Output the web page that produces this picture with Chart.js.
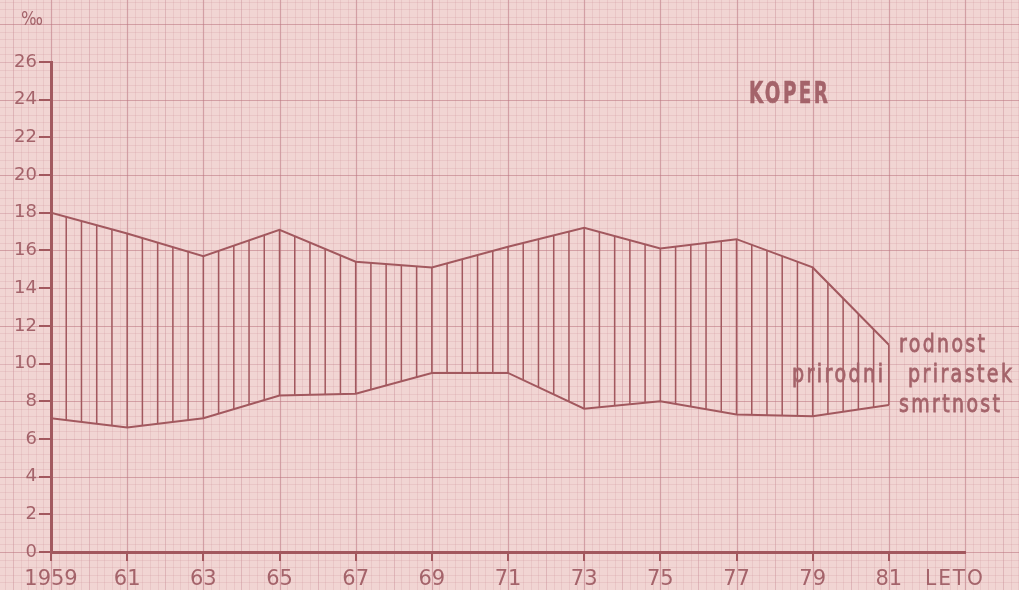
<!DOCTYPE html>
<html>
<head>
<meta charset="utf-8">
<script src="https://cdn.jsdelivr.net/npm/chart.js@4.4.1/dist/chart.umd.min.js"></script>
<style>
html,body{margin:0;padding:0;background:#f1d5d3;}
canvas{display:block;}
</style>
</head>
<body>
<canvas id="c" width="1019" height="590"></canvas>
<script>
// ---- data ----
const years = [1959, 1961, 1963, 1965, 1967, 1969, 1971, 1973, 1975, 1977, 1979, 1981];
const rodnost = [18.0, 16.9, 15.7, 17.1, 15.4, 15.1, 16.2, 17.2, 16.1, 16.6, 15.1, 11.0];
const smrtnost = [7.1, 6.6, 7.1, 8.3, 8.4, 9.5, 9.5, 7.6, 8.0, 7.3, 7.2, 7.8];
const xTickLabels = ['1959', '61', '63', '65', '67', '69', '71', '73', '75', '77', '79', '81'];
const yTicks = [0, 2, 4, 6, 8, 10, 12, 14, 16, 18, 20, 22, 24, 26];
const seriesNames = ['rodnost', 'prirodni', 'prirastek', 'smrtnost'];
const title = 'KOPER';
const unitLabel = '‰';
const xAxisName = 'LETO';

const INK = '#a2585e';
const TEXT = '#a4636a';
const PAPER = '#f1d5d3';

const paperPlugin = {
  id: 'paper',
  beforeDraw(chart) {
    const ctx = chart.ctx, xs = chart.scales.x, ys = chart.scales.y;
    const W = chart.width, H = chart.height;
    ctx.save();
    ctx.fillStyle = PAPER;
    ctx.fillRect(0, 0, W, H);
    const x0 = xs.getPixelForValue(1959), dx = xs.getPixelForValue(1959.2) - x0;
    const kMinX = Math.floor(-x0 / dx) - 1, kMaxX = Math.ceil((W - x0) / dx) + 1;
    const y0 = ys.getPixelForValue(0), dy = ys.getPixelForValue(0.4) - y0;
    const kMinY = Math.floor((H - y0) / dy) - 1, kMaxY = Math.ceil((0 - y0) / dy) + 1;
    const styleFor = (k) => {
      const m = ((k % 10) + 10) % 10;
      if (m === 0) return ['rgba(185,115,125,0.55)', 1.2];
      if (m === 5) return ['rgba(195,130,140,0.38)', 1];
      return ['rgba(205,145,155,0.22)', 1];
    };
    for (let k = kMinX; k <= kMaxX; k++) {
      const x = Math.round(xs.getPixelForValue(1959 + k * 0.2)) + 0.5;
      const [c, w] = styleFor(k);
      ctx.strokeStyle = c; ctx.lineWidth = w;
      ctx.beginPath(); ctx.moveTo(x, 0); ctx.lineTo(x, H); ctx.stroke();
    }
    for (let k = Math.min(kMinY, kMaxY); k <= Math.max(kMinY, kMaxY); k++) {
      const y = Math.round(ys.getPixelForValue(k * 0.4)) + 0.5;
      const [c, w] = styleFor(k);
      ctx.strokeStyle = c; ctx.lineWidth = w;
      ctx.beginPath(); ctx.moveTo(0, y); ctx.lineTo(W, y); ctx.stroke();
    }
    ctx.restore();
  }
};

function interpPix(points, px) {
  for (let i = 0; i < points.length - 1; i++) {
    const a = points[i], b = points[i + 1];
    if (px >= a.x - 0.01 && px <= b.x + 0.01) {
      const t = (px - a.x) / (b.x - a.x);
      return a.y + t * (b.y - a.y);
    }
  }
  return points[points.length - 1].y;
}

const hatchPlugin = {
  id: 'hatch',
  beforeDatasetsDraw(chart) {
    const ctx = chart.ctx, xs = chart.scales.x;
    const top = chart.getDatasetMeta(0).data, bot = chart.getDatasetMeta(1).data;
    ctx.save();
    ctx.strokeStyle = INK; ctx.lineWidth = 1.5;
    const first = years[0], last = years[years.length - 1];
    const n = Math.round((last - first) / 0.4);
    for (let k = 0; k <= n; k++) {
      const px = xs.getPixelForValue(first + k * 0.4);
      const y1 = interpPix(top, px), y2 = interpPix(bot, px);
      ctx.beginPath(); ctx.moveTo(px, y1); ctx.lineTo(px, y2); ctx.stroke();
    }
    ctx.restore();
  }
};

function fitText(ctx, txt, x, y, w, font, spacing, bold) {
  ctx.save();
  ctx.font = font;
  ctx.letterSpacing = (spacing || 0) + 'px';
  const m = ctx.measureText(txt).width - (spacing || 0);
  ctx.translate(x, y);
  ctx.scale(w / m, 1);
  ctx.textAlign = 'left';
  ctx.textBaseline = 'alphabetic';
  ctx.fillText(txt, 0, 0);
  if (bold) {
    ctx.strokeStyle = ctx.fillStyle;
    ctx.lineWidth = bold;
    ctx.strokeText(txt, 0, 0);
  }
  ctx.restore();
}

const textPlugin = {
  id: 'texts',
  afterDraw(chart) {
    const ctx = chart.ctx;
    ctx.save();
    ctx.fillStyle = TEXT;
    fitText(ctx, unitLabel, 21, 25, 22, '19px "DejaVu Sans"', 0, 0);
    fitText(ctx, title, 749, 103, 79, 'bold 30px "DejaVu Sans"', 4, 0.6);
    fitText(ctx, seriesNames[0], 899, 352, 86, '24px "DejaVu Sans"', 3, 0.8);
    fitText(ctx, seriesNames[1], 792, 382, 91, '24px "DejaVu Sans"', 3, 0.8);
    fitText(ctx, seriesNames[2], 908, 382, 104, '24px "DejaVu Sans"', 3, 0.8);
    fitText(ctx, seriesNames[3], 899, 412, 101, '24px "DejaVu Sans"', 3, 0.8);
    fitText(ctx, xAxisName, 925, 585, 58, '21px "DejaVu Sans"', 2, 0);
    ctx.restore();
  }
};

new Chart(document.getElementById('c'), {
  type: 'line',
  data: {
    datasets: [
      { label: 'rodnost', data: years.map((y, i) => ({ x: y, y: rodnost[i] })),
        borderColor: INK, borderWidth: 2, pointRadius: 0, tension: 0, fill: false },
      { label: 'smrtnost', data: years.map((y, i) => ({ x: y, y: smrtnost[i] })),
        borderColor: INK, borderWidth: 2, pointRadius: 0, tension: 0, fill: false }
    ]
  },
  options: {
    responsive: false,
    animation: false,
    devicePixelRatio: 1,
    layout: { padding: { top: 62, right: 54, left: 0, bottom: 0 } },
    plugins: { legend: { display: false }, tooltip: { enabled: false } },
    scales: {
      x: {
        type: 'linear', min: 1959, max: 1983,
        afterBuildTicks(s) { s.ticks = years.map(v => ({ value: v })); },
        afterFit(s) { s.height = 38; },
        ticks: {
          autoSkip: false, maxRotation: 0, color: TEXT, padding: 6,
          font: { family: 'DejaVu Sans', size: 21 },
          callback(v) { const i = years.indexOf(v); return i >= 0 ? xTickLabels[i] : ''; }
        },
        grid: { drawOnChartArea: false, drawTicks: true, tickLength: 9, color: INK, lineWidth: 2 },
        border: { color: INK, width: 3 }
      },
      y: {
        min: 0, max: 26,
        afterBuildTicks(s) { s.ticks = yTicks.map(v => ({ value: v })); },
        afterFit(s) { s.width = 51; },
        ticks: { color: TEXT, padding: 2, font: { family: 'DejaVu Sans', size: 18 } },
        grid: { drawOnChartArea: false, drawTicks: true, tickLength: 12, color: INK, lineWidth: 2 },
        border: { color: INK, width: 3 }
      }
    }
  },
  plugins: [paperPlugin, hatchPlugin, textPlugin]
});
</script>
</body>
</html>
